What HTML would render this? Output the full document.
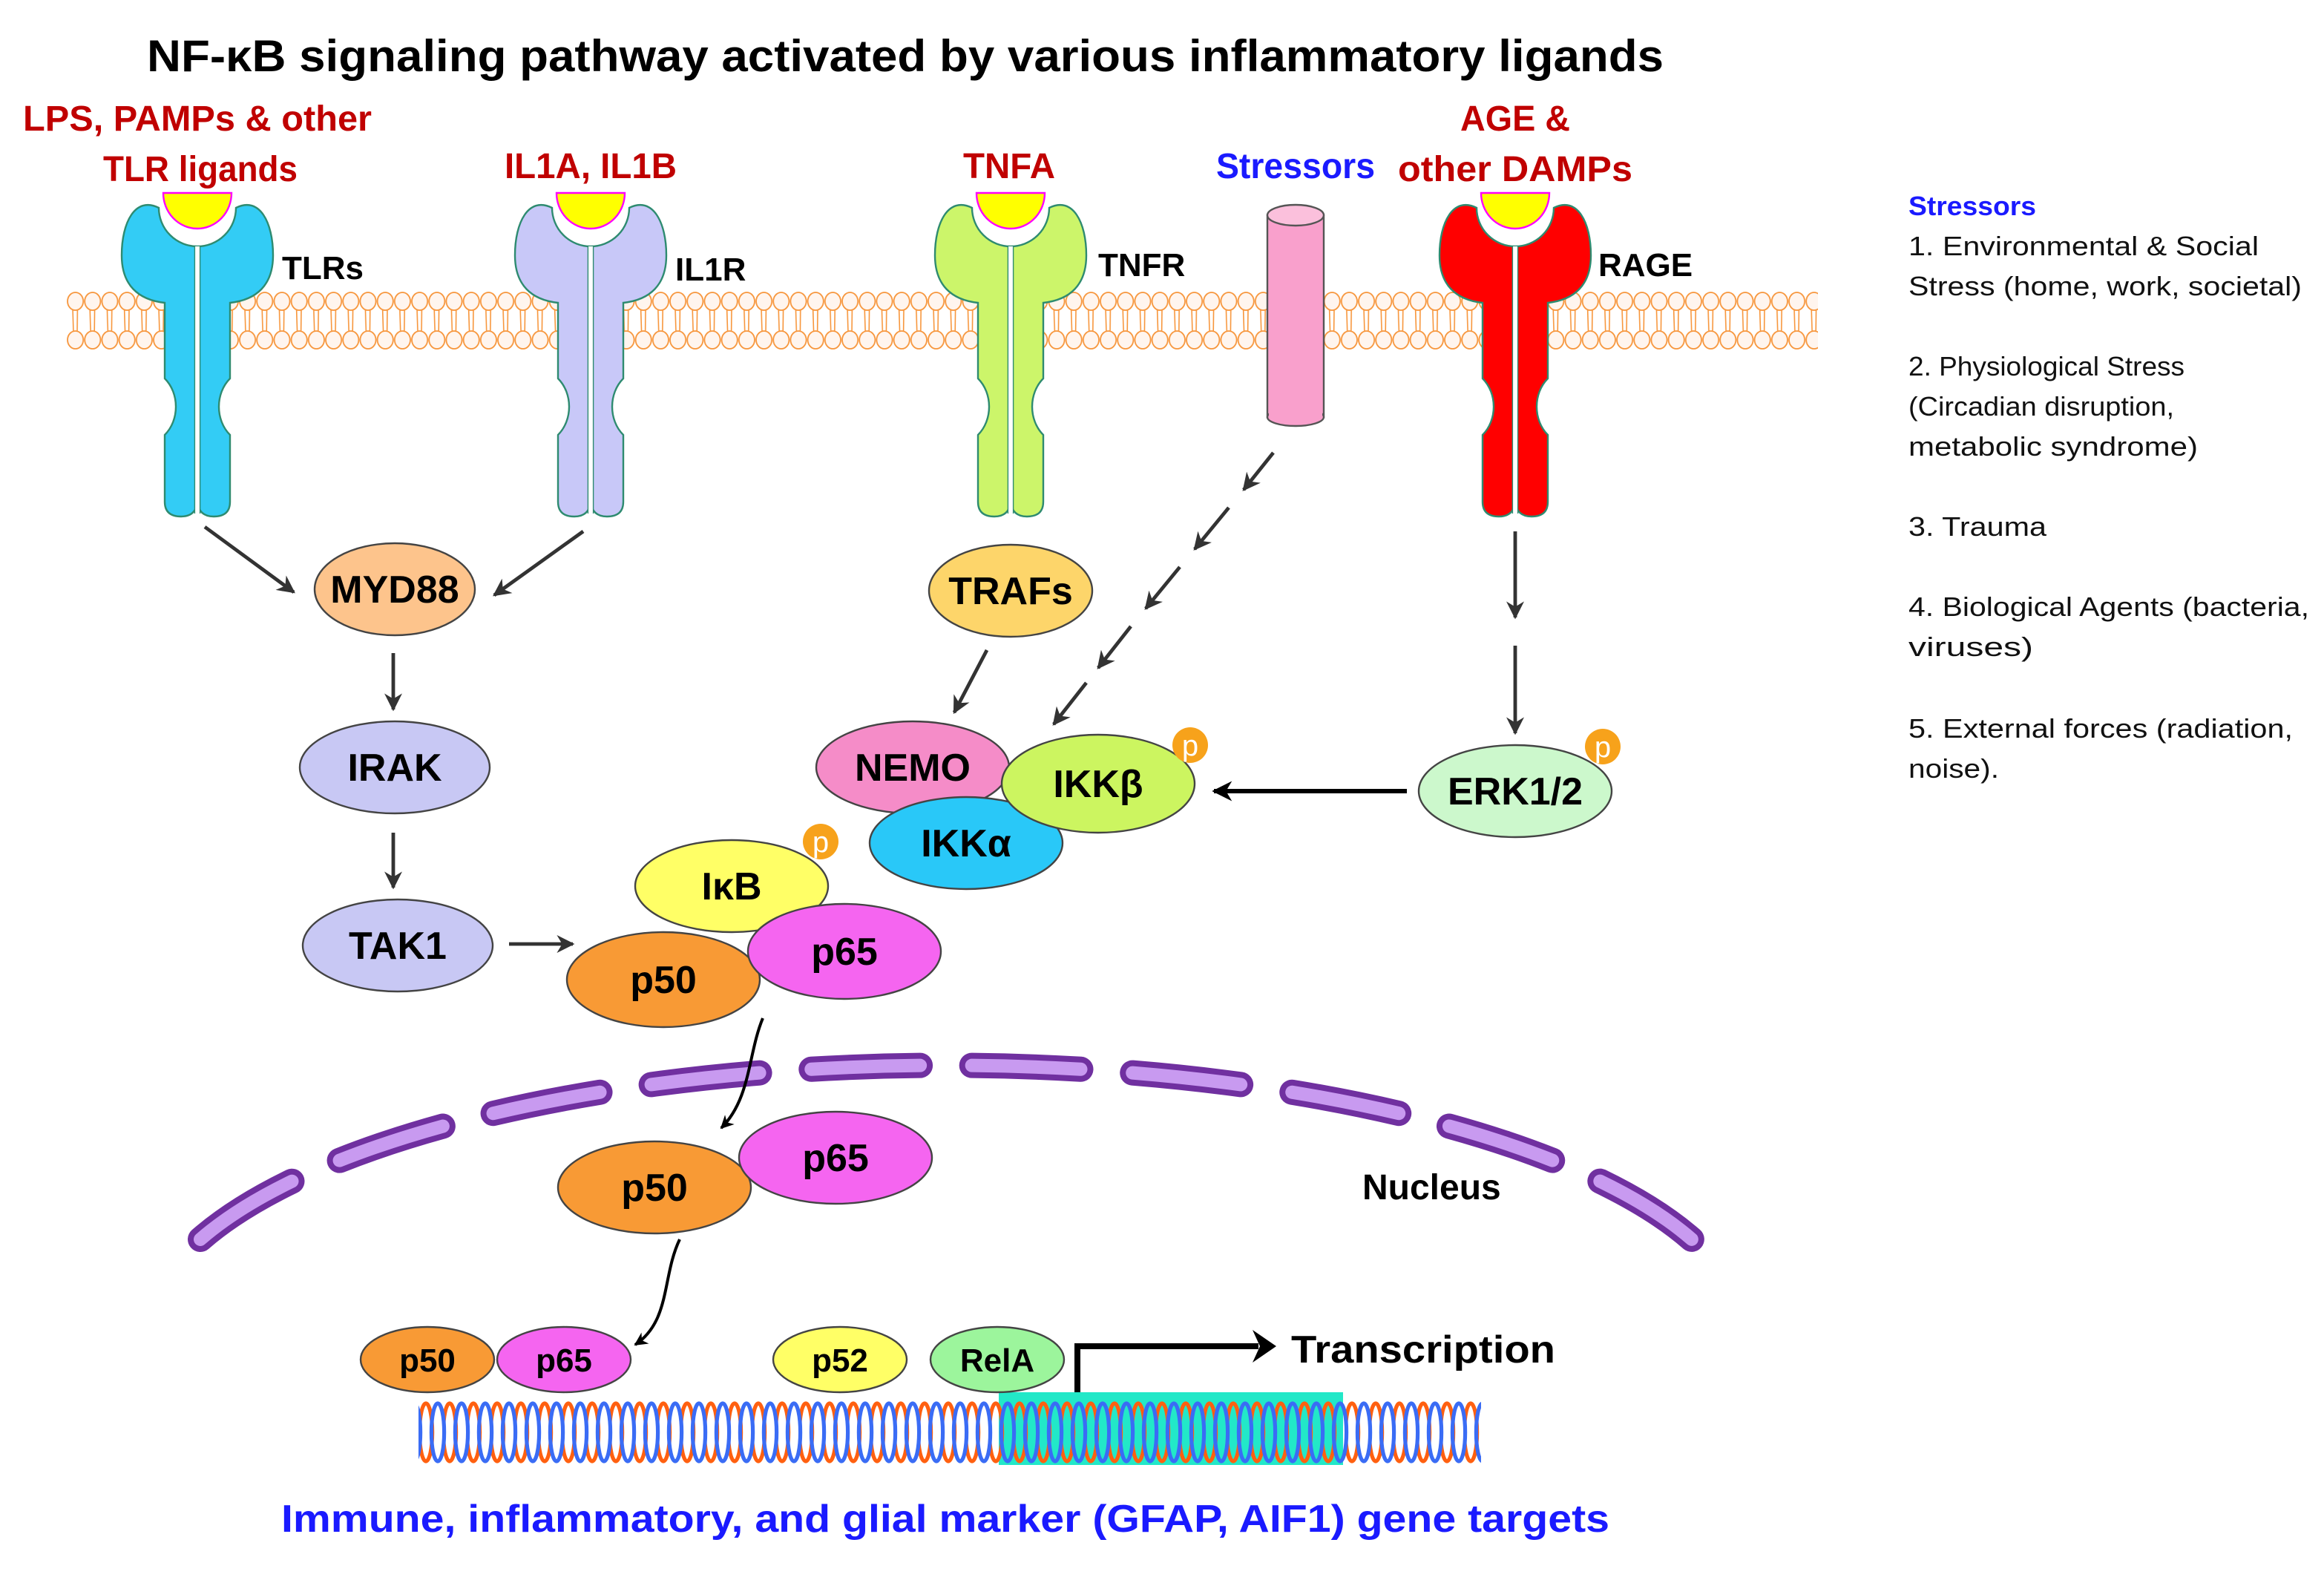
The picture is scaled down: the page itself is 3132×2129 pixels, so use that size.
<!DOCTYPE html>
<html><head><meta charset="utf-8"><style>
html,body{margin:0;padding:0;background:#fff;}
svg{display:block;}
text{font-family:"Liberation Sans",sans-serif;}
.b{font-weight:bold;}
</style></head><body>
<svg width="3132" height="2129" viewBox="0 0 1566 1064.5" xmlns="http://www.w3.org/2000/svg">
<defs>
<pattern id="mem" x="45" y="196" width="11.6" height="40" patternUnits="userSpaceOnUse">
<line x1="4" y1="12" x2="4.5" y2="28" stroke="#f7963c" stroke-width="0.8"/>
<line x1="7.2" y1="12" x2="7" y2="28" stroke="#f7963c" stroke-width="0.8"/>
<ellipse cx="5.8" cy="7" rx="5.3" ry="6" fill="#fff5ee" stroke="#f7963c" stroke-width="0.9"/>
<ellipse cx="5.8" cy="33" rx="5.3" ry="6" fill="#fff5ee" stroke="#f7963c" stroke-width="0.9"/>
</pattern>
<pattern id="dna" x="282" y="943" width="16" height="44" patternUnits="userSpaceOnUse">
<ellipse cx="5" cy="22" rx="4.3" ry="19.5" fill="none" stroke="#ff6010" stroke-width="2.6"/>
<ellipse cx="13" cy="22" rx="4.3" ry="19.5" fill="none" stroke="#3a6cf5" stroke-width="2.6"/>
<ellipse cx="-3" cy="22" rx="4.3" ry="19.5" fill="none" stroke="#3a6cf5" stroke-width="2.6"/>
</pattern>
<g id="rec">
<path d="M -26,140 C -42,132 -51,150 -51,172 C -51,192 -40,202 -22,204 L -22,255 C -12,265 -12,283 -22,293 L -22,338 Q -22,348 -11,348 Q -1,348 0,338 Q 1,348 11,348 Q 22,348 22,338 L 22,293 C 12,283 12,265 22,255 L 22,204 C 40,202 51,192 51,172 C 51,150 42,132 26,140 A 26 26 0 0 1 -26,140 Z" stroke="#2e8b70" stroke-width="1.2"/>
<line x1="0" y1="166" x2="0" y2="348" stroke="#fff" stroke-width="3"/>
<line x1="-1.8" y1="166" x2="-1.8" y2="346" stroke="#2e8b70" stroke-width="0.7"/>
<line x1="1.8" y1="166" x2="1.8" y2="346" stroke="#2e8b70" stroke-width="0.7"/>
<path d="M -23,130 L 23,130 A 23 24 0 0 1 -23,130 Z" fill="#ffff00" stroke="#ff00ff" stroke-width="1.2"/>
</g>
<marker id="ah" viewBox="0 0 10 10" refX="9" refY="5" markerWidth="5" markerHeight="5" orient="auto"><path d="M0,0 L10,5 L0,10 L3,5 Z" fill="#333"/></marker>
<marker id="ahk" viewBox="0 0 10 10" refX="9" refY="5" markerWidth="4.5" markerHeight="4.5" orient="auto"><path d="M0,0 L10,5 L0,10 L3,5 Z" fill="#000"/></marker>
</defs>

<text x="610" y="48" class="b" font-size="30" text-anchor="middle" textLength="1022" lengthAdjust="spacingAndGlyphs">NF-κB signaling pathway activated by various inflammatory ligands</text>

<g class="b" font-size="24" fill="#c00000" text-anchor="middle">
<text x="133" y="88" textLength="235" lengthAdjust="spacingAndGlyphs">LPS, PAMPs &amp; other</text>
<text x="135" y="122" textLength="131" lengthAdjust="spacingAndGlyphs">TLR ligands</text>
<text x="398" y="120" textLength="116" lengthAdjust="spacingAndGlyphs">IL1A, IL1B</text>
<text x="680" y="120" textLength="62" lengthAdjust="spacingAndGlyphs">TNFA</text>
<text x="1021" y="88" textLength="74" lengthAdjust="spacingAndGlyphs">AGE &amp;</text>
<text x="1021" y="122" textLength="158" lengthAdjust="spacingAndGlyphs">other DAMPs</text>
<text x="873" y="120" fill="#1a1aff" textLength="107" lengthAdjust="spacingAndGlyphs">Stressors</text>
</g>

<rect x="45" y="196" width="1180" height="40" fill="url(#mem)"/>

<use href="#rec" x="133" y="0" fill="#33ccf5"/>
<use href="#rec" x="398" y="0" fill="#c8c8f8"/>
<use href="#rec" x="681" y="0" fill="#ccf56a"/>
<use href="#rec" x="1021" y="0" fill="#ff0000"/>

<rect x="854" y="145" width="38" height="136" fill="#f9a0cc" stroke="#555" stroke-width="1.2"/>
<ellipse cx="873" cy="281" rx="19" ry="6" fill="#f9a0cc" stroke="#555" stroke-width="1.2"/>
<rect x="855" y="145" width="36" height="135" fill="#f9a0cc"/>
<ellipse cx="873" cy="145" rx="19" ry="7" fill="#fbc0dc" stroke="#555" stroke-width="1.2"/>

<g class="b" font-size="22">
<text x="190" y="188">TLRs</text>
<text x="455" y="189">IL1R</text>
<text x="740" y="186">TNFR</text>
<text x="1077" y="186">RAGE</text>
</g>

<g stroke="#333" stroke-width="2.4" fill="none" marker-end="url(#ah)">
<line x1="138" y1="355" x2="198" y2="399"/>
<line x1="393" y1="358" x2="333" y2="401"/>
<line x1="265" y1="440" x2="265" y2="478"/>
<line x1="265" y1="561" x2="265" y2="598"/>
<line x1="343" y1="636" x2="386" y2="636"/>
<line x1="665" y1="438" x2="643" y2="480"/>
<line x1="1021" y1="358" x2="1021" y2="416"/>
<line x1="1021" y1="435" x2="1021" y2="494"/>
<line x1="858" y1="305" x2="838" y2="330"/>
<line x1="828" y1="342" x2="805" y2="370"/>
<line x1="795" y1="382" x2="772" y2="410"/>
<line x1="762" y1="422" x2="740" y2="450"/>
<line x1="732" y1="460" x2="710" y2="488"/>
</g>
<line x1="948" y1="533" x2="818" y2="533" stroke="#000" stroke-width="3" marker-end="url(#ahk)"/>

<path d="M 135,835 A 540 185 0 0 1 1140,835" pathLength="1000" fill="none" stroke="#7030a0" stroke-width="17" stroke-linecap="round" stroke-dasharray="70 33.33"/>
<path d="M 135,835 A 540 185 0 0 1 1140,835" pathLength="1000" fill="none" stroke="#c89af0" stroke-width="9" stroke-linecap="round" stroke-dasharray="70 33.33"/>
<text x="918" y="808" class="b" font-size="24">Nucleus</text>

<g stroke="#444" stroke-width="1.2">
<ellipse cx="266" cy="397" rx="54" ry="31" fill="#fdc48c"/>
<ellipse cx="266" cy="517" rx="64" ry="31" fill="#c8c8f4"/>
<ellipse cx="268" cy="637" rx="64" ry="31" fill="#c8c8f4"/>
<ellipse cx="681" cy="398" rx="55" ry="31" fill="#fdd56a"/>
<ellipse cx="615" cy="517" rx="65" ry="31" fill="#f58cc8"/>
<ellipse cx="651" cy="568" rx="65" ry="31" fill="#29c8f8"/>
<ellipse cx="740" cy="528" rx="65" ry="33" fill="#ccf560"/>
<ellipse cx="1021" cy="533" rx="65" ry="31" fill="#ccf8cc"/>
<ellipse cx="493" cy="597" rx="65" ry="31" fill="#ffff66"/>
<ellipse cx="447" cy="660" rx="65" ry="32" fill="#f89a35"/>
<ellipse cx="569" cy="641" rx="65" ry="32" fill="#f565f0"/>
<ellipse cx="441" cy="800" rx="65" ry="31" fill="#f89a35"/>
<ellipse cx="563" cy="780" rx="65" ry="31" fill="#f565f0"/>
</g>
<g fill="#f7a21b">
<circle cx="802" cy="502" r="12"/><circle cx="1080" cy="503" r="12"/><circle cx="553" cy="567" r="12"/>
</g>
<g fill="#fff" font-size="20" text-anchor="middle"><text x="802" y="509">p</text><text x="1080" y="510">p</text><text x="553" y="574">p</text></g>

<g class="b" font-size="26" text-anchor="middle">
<text x="266" y="406">MYD88</text>
<text x="266" y="526">IRAK</text>
<text x="268" y="646">TAK1</text>
<text x="681" y="407">TRAFs</text>
<text x="615" y="526">NEMO</text>
<text x="651" y="577">IKKα</text>
<text x="740" y="537">IKKβ</text>
<text x="1021" y="542">ERK1/2</text>
<text x="493" y="606">IκB</text>
<text x="447" y="669">p50</text>
<text x="569" y="650">p65</text>
<text x="441" y="809">p50</text>
<text x="563" y="789">p65</text>
</g>

<path d="M 514,686 C 504,710 506,740 486,760" fill="none" stroke="#000" stroke-width="2" marker-end="url(#ahk)"/>
<path d="M 458,835 C 446,860 452,890 428,906" fill="none" stroke="#000" stroke-width="2" marker-end="url(#ahk)"/>

<rect x="673" y="938" width="232" height="49" fill="#22e8c8"/>
<rect x="282" y="943" width="716" height="44" fill="url(#dna)"/>

<g stroke="#444" stroke-width="1.2">
<ellipse cx="288" cy="916" rx="45" ry="22" fill="#f89a35"/>
<ellipse cx="380" cy="916" rx="45" ry="22" fill="#f565f0"/>
<ellipse cx="566" cy="916" rx="45" ry="22" fill="#ffff66"/>
<ellipse cx="672" cy="916" rx="45" ry="22" fill="#9cf59c"/>
</g>
<g class="b" font-size="22" text-anchor="middle">
<text x="288" y="924">p50</text><text x="380" y="924">p65</text><text x="566" y="924">p52</text><text x="672" y="924">RelA</text>
</g>
<path d="M 726,938 L 726,907 L 848,907" fill="none" stroke="#000" stroke-width="4"/>
<path d="M 844,896 L 860,907 L 844,918 L 849,907 Z" fill="#000"/>
<text x="870" y="918" class="b" font-size="26" textLength="178" lengthAdjust="spacingAndGlyphs">Transcription</text>

<text x="637" y="1032" class="b" font-size="26" fill="#1a1aff" text-anchor="middle" textLength="895" lengthAdjust="spacingAndGlyphs">Immune, inflammatory, and glial marker (GFAP, AIF1) gene targets</text>

<text x="1286" y="145" class="b" font-size="18" fill="#1a1aff" textLength="86" lengthAdjust="spacingAndGlyphs">Stressors</text>
<g font-size="18" fill="#111">
<text x="1286" y="172" textLength="236" lengthAdjust="spacingAndGlyphs">1. Environmental &amp; Social</text>
<text x="1286" y="199" textLength="265" lengthAdjust="spacingAndGlyphs">Stress (home, work, societal)</text>
<text x="1286" y="253" textLength="186" lengthAdjust="spacingAndGlyphs">2. Physiological Stress</text>
<text x="1286" y="280" textLength="179" lengthAdjust="spacingAndGlyphs">(Circadian disruption,</text>
<text x="1286" y="307" textLength="195" lengthAdjust="spacingAndGlyphs">metabolic syndrome)</text>
<text x="1286" y="361" textLength="93" lengthAdjust="spacingAndGlyphs">3. Trauma</text>
<text x="1286" y="415" textLength="270" lengthAdjust="spacingAndGlyphs">4. Biological Agents (bacteria,</text>
<text x="1286" y="442" textLength="84" lengthAdjust="spacingAndGlyphs">viruses)</text>
<text x="1286" y="497" textLength="259" lengthAdjust="spacingAndGlyphs">5. External forces (radiation,</text>
<text x="1286" y="524" textLength="61" lengthAdjust="spacingAndGlyphs">noise).</text>
</g>
</svg>
</body></html>
